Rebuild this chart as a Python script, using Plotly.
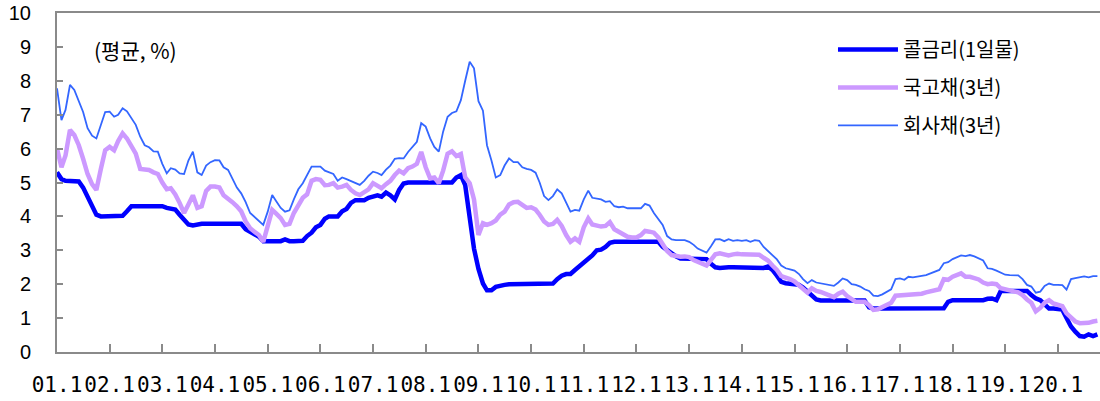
import pandas as pd
import plotly.graph_objects as go

# ---- data (monthly averages, %) ----
months = pd.date_range("2001-01-01", periods=238, freq="MS")

call_rate = [
    5.30, 5.10, 5.05, 5.05, 5.05, 5.03, 4.85, 4.60, 4.30, 4.05, 4.00, 4.00,  # 2001
    4.00, 4.00, 4.00, 4.02, 4.15, 4.30, 4.30, 4.30, 4.30, 4.30, 4.30, 4.30,  # 2002
    4.30, 4.25, 4.22, 4.20, 4.05, 3.92, 3.76, 3.73, 3.76, 3.78, 3.78, 3.78,  # 2003
    3.78, 3.78, 3.78, 3.78, 3.78, 3.78, 3.78, 3.62, 3.55, 3.50, 3.40, 3.27,  # 2004
    3.27, 3.27, 3.27, 3.27, 3.32, 3.27, 3.27, 3.27, 3.28, 3.42, 3.52, 3.68,  # 2005
    3.75, 3.93, 4.00, 4.00, 4.00, 4.15, 4.22, 4.40, 4.48, 4.48, 4.48, 4.55,  # 2006
    4.60, 4.62, 4.58, 4.70, 4.62, 4.50, 4.78, 4.97, 5.00, 5.00, 5.00, 5.00,  # 2007
    5.00, 5.00, 5.00, 5.00, 5.00, 5.00, 5.00, 5.15, 5.22, 4.92, 3.95, 3.05,  # 2008
    2.45, 2.02, 1.82, 1.82, 1.92, 1.96, 1.98, 2.00, 2.00, 2.00, 2.00, 2.00,  # 2009
    2.00, 2.00, 2.00, 2.00, 2.00, 2.02, 2.15, 2.25, 2.30, 2.30, 2.42, 2.52,  # 2010
    2.65, 2.72, 2.85, 3.00, 3.02, 3.10, 3.22, 3.25, 3.25, 3.25, 3.25, 3.25,  # 2011
    3.25, 3.25, 3.25, 3.25, 3.25, 3.25, 3.10, 3.00, 2.93, 2.82, 2.76, 2.76,  # 2012
    2.76, 2.76, 2.76, 2.76, 2.74, 2.60, 2.50, 2.48, 2.50, 2.50, 2.50, 2.50,  # 2013
    2.50, 2.50, 2.50, 2.47, 2.50, 2.48, 2.52, 2.42, 2.25, 2.07, 2.03, 2.02,  # 2014
    2.02, 1.98, 1.90, 1.78, 1.68, 1.55, 1.52, 1.52, 1.52, 1.52, 1.52, 1.52,  # 2015
    1.52, 1.52, 1.52, 1.52, 1.52, 1.32, 1.28, 1.28, 1.28, 1.28, 1.28, 1.26,  # 2016
    1.28, 1.28, 1.28, 1.28, 1.28, 1.28, 1.28, 1.28, 1.28, 1.28, 1.29, 1.48,  # 2017
    1.53, 1.53, 1.53, 1.53, 1.53, 1.53, 1.53, 1.53, 1.57, 1.58, 1.53, 1.80,  # 2018
    1.80, 1.80, 1.80, 1.80, 1.80, 1.80, 1.68, 1.58, 1.53, 1.40, 1.28, 1.28,  # 2019
    1.28, 1.25, 1.00, 0.75, 0.60, 0.47, 0.45, 0.52, 0.47, 0.52,              # 2020
]

ktb_3y = [
    6.00, 5.45, 5.80, 6.55, 6.40, 6.10, 5.70, 5.25, 4.95, 4.78, 5.40, 5.95,  # 2001
    6.05, 5.95, 6.22, 6.45, 6.30, 6.10, 5.85, 5.40, 5.40, 5.37, 5.30, 5.25,  # 2002
    5.00, 4.80, 4.83, 4.65, 4.40, 4.10, 4.35, 4.62, 4.25, 4.30, 4.75, 4.88,  # 2003
    4.88, 4.85, 4.62, 4.53, 4.42, 4.30, 4.15, 3.85, 3.65, 3.55, 3.45, 3.25,  # 2004
    3.72, 4.19, 4.08, 3.95, 3.75, 3.78, 4.10, 4.35, 4.55, 4.65, 5.05, 5.10,  # 2005
    5.08, 4.92, 4.93, 4.98, 4.85, 4.88, 4.93, 4.78, 4.68, 4.63, 4.70, 4.80,  # 2006
    4.98, 4.90, 4.83, 4.95, 5.05, 5.22, 5.35, 5.27, 5.42, 5.47, 5.55, 5.90,  # 2007
    5.45, 5.12, 5.15, 4.98, 5.35, 5.85, 5.92, 5.78, 5.84, 5.15, 4.98, 4.50,  # 2008
    3.45, 3.80, 3.75, 3.80, 3.88, 4.05, 4.14, 4.35, 4.42, 4.43, 4.34, 4.25,  # 2009
    4.27, 4.20, 4.05, 3.85, 3.75, 3.78, 3.90, 3.72, 3.45, 3.25, 3.35, 3.25,  # 2010
    3.68, 3.94, 3.76, 3.73, 3.70, 3.72, 3.83, 3.62, 3.55, 3.48, 3.40, 3.38,  # 2011
    3.38, 3.45, 3.57, 3.55, 3.52, 3.38, 3.20, 2.98, 2.86, 2.82, 2.81, 2.82,  # 2012
    2.80, 2.71, 2.65, 2.60, 2.55, 2.72, 2.88, 2.91, 2.88, 2.85, 2.88, 2.90,  # 2013
    2.88, 2.88, 2.89, 2.87, 2.87, 2.78, 2.70, 2.55, 2.42, 2.24, 2.20, 2.15,  # 2014
    2.08, 1.98, 1.88, 1.75, 1.88, 1.80, 1.77, 1.72, 1.68, 1.62, 1.72, 1.78,  # 2015
    1.65, 1.55, 1.48, 1.48, 1.48, 1.38, 1.24, 1.26, 1.32, 1.36, 1.45, 1.66,  # 2016
    1.67, 1.66, 1.68, 1.67, 1.68, 1.72, 1.76, 1.78, 1.80, 1.85, 2.15, 2.13,  # 2017
    2.22, 2.26, 2.32, 2.22, 2.22, 2.18, 2.14, 2.05, 2.00, 2.02, 2.00, 1.88,  # 2018
    1.84, 1.80, 1.79, 1.76, 1.68, 1.55, 1.45, 1.20, 1.30, 1.45, 1.53, 1.43,  # 2019
    1.40, 1.35, 1.14, 1.02, 0.90, 0.85, 0.85, 0.86, 0.90, 0.92,              # 2020
]

corp_3y = [
    7.78, 6.84, 7.14, 7.88, 7.73, 7.40, 7.08, 6.60, 6.38, 6.30, 6.70, 7.08,  # 2001
    7.09, 6.94, 7.00, 7.19, 7.10, 6.90, 6.70, 6.35, 6.10, 6.04, 5.92, 5.91,  # 2002
    5.55, 5.27, 5.42, 5.38, 5.27, 5.25, 5.65, 5.91, 5.30, 5.22, 5.50, 5.60,  # 2003
    5.66, 5.65, 5.45, 5.37, 5.10, 4.85, 4.68, 4.42, 4.10, 3.98, 3.88, 3.75,  # 2004
    4.14, 4.63, 4.45, 4.25, 4.14, 4.18, 4.50, 4.80, 4.98, 5.20, 5.47, 5.47,  # 2005
    5.47, 5.35, 5.30, 5.25, 5.05, 5.15, 5.10, 5.05, 4.98, 4.93, 5.05, 5.20,  # 2006
    5.32, 5.28, 5.22, 5.38, 5.50, 5.70, 5.72, 5.71, 5.90, 6.05, 6.20, 6.75,  # 2007
    6.65, 6.30, 6.05, 5.91, 6.50, 6.94, 7.05, 7.10, 7.43, 8.00, 8.56, 8.37,  # 2008
    7.40, 7.12, 6.10, 5.65, 5.15, 5.22, 5.50, 5.71, 5.60, 5.60, 5.45, 5.40,  # 2009
    5.37, 5.29, 5.00, 4.60, 4.48, 4.60, 4.80, 4.68, 4.40, 4.14, 4.19, 4.17,  # 2010
    4.50, 4.76, 4.55, 4.52, 4.50, 4.43, 4.45, 4.30, 4.27, 4.29, 4.24, 4.24,  # 2011
    4.24, 4.24, 4.37, 4.32, 4.10, 3.92, 3.75, 3.42, 3.32, 3.30, 3.30, 3.30,  # 2012
    3.25, 3.16, 3.05, 2.98, 2.93, 3.12, 3.32, 3.33, 3.27, 3.33, 3.28, 3.30,  # 2013
    3.28, 3.30, 3.25, 3.30, 3.28, 3.10, 2.98, 2.87, 2.73, 2.55, 2.47, 2.44,  # 2014
    2.40, 2.30, 2.15, 2.03, 2.12, 2.05, 2.02, 2.00, 1.98, 1.95, 2.05, 2.17,  # 2015
    2.12, 2.00, 1.98, 1.93, 1.85, 1.80, 1.66, 1.65, 1.70, 1.77, 1.85, 2.15,  # 2016
    2.17, 2.13, 2.22, 2.20, 2.22, 2.25, 2.27, 2.32, 2.37, 2.42, 2.62, 2.65,  # 2017
    2.74, 2.80, 2.85, 2.83, 2.86, 2.82, 2.76, 2.70, 2.47, 2.45, 2.40, 2.35,  # 2018
    2.28, 2.27, 2.27, 2.26, 2.15, 1.98, 1.93, 1.75, 1.78, 1.95, 2.02, 1.98,  # 2019
    1.98, 1.97, 1.84, 2.15, 2.18, 2.20, 2.23, 2.20, 2.24, 2.24,              # 2020
]

tick_years = list(range(2001, 2021))
tick_vals = [f"{y}-01-01" for y in tick_years]
tick_text = [f"{y % 100:02d}.1" for y in tick_years]

series_names = ["콜금리(1일물)", "국고채(3년)", "회사채(3년)"]

# ---- figure ----
fig = go.Figure()
fig.add_trace(go.Scatter(x=months, y=call_rate, mode="lines", name=series_names[0],
                         line=dict(color="#0000FF", width=4.5), legendgroup="a"))
fig.add_trace(go.Scatter(x=months, y=ktb_3y, mode="lines", name=series_names[1],
                         line=dict(color="#CC99FF", width=4.5), legendgroup="b"))
fig.add_trace(go.Scatter(x=months, y=corp_3y, mode="lines", name=series_names[2],
                         line=dict(color="#3366FF", width=1.8), legendgroup="c"))

axis_gray = "#8a8a8a"
fig.update_layout(
    width=1100, height=401,
    margin=dict(l=57, r=0, t=13, b=49, autoexpand=False),
    paper_bgcolor="white", plot_bgcolor="white",
    font=dict(family="Liberation Sans, Arial, sans-serif", color="black"),
    xaxis=dict(
        type="date", range=["2001-01-01", "2020-10-19"],
        tickmode="array", tickvals=tick_vals, ticktext=tick_text,
        ticks="inside", ticklen=8, tickwidth=1.5, tickcolor=axis_gray,
        showline=True, linecolor=axis_gray, linewidth=2, mirror=True,
        showgrid=False, zeroline=False, automargin=False,
        tickfont=dict(family="DejaVu Sans Mono", size=21, color="black"),
        ticklabelstandoff=13,
    ),
    yaxis=dict(
        range=[0, 10], tickmode="linear", tick0=0, dtick=1,
        ticks="inside", ticklen=6, tickwidth=1.5, tickcolor=axis_gray,
        showline=True, linecolor=axis_gray, linewidth=2,
        showgrid=False, zeroline=False, automargin=False,
        tickfont=dict(family="Liberation Sans, Arial", size=20, color="black"),
        ticklabelstandoff=20,
    ),
    legend=dict(
        x=0.744, y=0.95, xanchor="left", yanchor="top",
        font=dict(family="Noto Sans CJK KR", size=20, color="black"),
        bgcolor="rgba(0,0,0,0)", traceorder="grouped", tracegroupgap=9,
        itemwidth=60,
    ),
    showlegend=True,
    annotations=[dict(
        text="(평균, %)", xref="paper", yref="paper", x=0.034, y=0.891,
        xanchor="left", yanchor="middle", showarrow=False,
        font=dict(family="Noto Sans CJK KR", size=21, color="black"),
    )],
)

fig.write_html(
    "out.html",
    config={"displayModeBar": False},
    post_script="document.body.style.margin='0';document.body.style.overflow='hidden';",
)
